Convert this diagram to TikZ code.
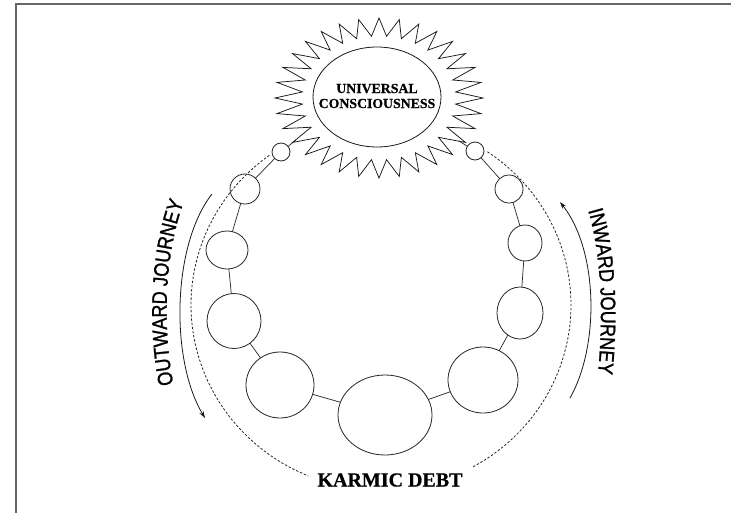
\documentclass[tikz,border=0pt]{standalone}
\usepackage{fontspec}
\setmainfont{Liberation Serif}
\newfontfamily\jfont[FakeStretch=0.86,FakeBold=1.2]{Liberation Sans}
\newfontfamily\hfont[FakeBold=0.6]{Liberation Serif Bold}
\usetikzlibrary{shapes.geometric,decorations.text,arrows.meta}
\begin{document}
\begin{tikzpicture}[x=1pt,y=-1pt,
  bead/.style 2 args={draw=black!85, line width=0.8pt, ellipse, inner sep=0pt, outer sep=0pt, minimum width=#1, minimum height=#2},
  link/.style={draw=black!85, line width=0.7pt},
  ray/.style={draw=black!90, line width=0.75pt, line join=miter},
  karma/.style={draw=black!85, line width=0.8pt, dash pattern=on 2.4pt off 1.8pt},
  journey/.style={draw=black!90, line width=0.8pt, -{Stealth[length=7pt,width=4.5pt]}},
  frame/.style={draw=black!60, line width=2pt}]
\useasboundingbox (0,0) rectangle (731,512);
\fill[white] (0,0) rectangle (731,512);
% frame (only left and top edges visible)
\draw[frame] (16,513) -- (16,4) -- (732,4);

% sun
\draw[ray] ({379+104},98)
  \foreach \i [evaluate=\i as \ang using \i*5.625,
               evaluate=\i as \rx using {ifthenelse(mod(\i,2)==0,104,77)},
               evaluate=\i as \ry using {ifthenelse(mod(\i,2)==0,80,62)}] in {1,...,63}
  { -- ({379+\rx*cos(\ang)},{98+\ry*sin(\ang)}) } -- cycle;
\node[draw=black!90, line width=0.8pt, ellipse, inner sep=0pt, outer sep=0pt,
      minimum width=128, minimum height=100] (uc) at (377,97) {};
\node[font=\hfont\fontsize{13.8}{15}\selectfont, align=center, inner sep=0pt] (uctext) at (377,96) {UNIVERSAL\\CONSCIOUSNESS};
\coordinate (sunL) at (296,140);
\coordinate (sunR) at (459,141);

% beads
\node[bead={18}{18}] (b1) at (281,152) {};
\node[bead={30}{30}] (b2) at (245,189) {};
\node[bead={42}{38}] (b3) at (227,250) {};
\node[bead={54}{55}] (b4) at (234,321) {};
\node[bead={68}{66}] (b5) at (280,385) {};
\node[bead={94}{80}] (b6) at (385,415) {};
\node[bead={70}{66}] (b7) at (483,380) {};
\node[bead={46}{52}] (b8) at (520,313) {};
\node[bead={34}{36}] (b9) at (525,243) {};
\node[bead={28}{28}] (b10) at (509,189) {};
\node[bead={18}{18}] (b11) at (475,151) {};

\draw[link] (sunL) -- (b1);
\draw[link] (b1) -- (b2);
\draw[link] (b2) -- (b3);
\draw[link] (b3) -- (b4);
\draw[link] (b4) -- (b5);
\draw[link] (b5) -- (b6);
\draw[link] (b6) -- (b7);
\draw[link] (b7) -- (b8);
\draw[link] (b8) -- (b9);
\draw[link] (b9) -- (b10);
\draw[link] (b10) -- (b11);
\draw[link] (b11) -- (sunR);

% karmic debt
\node[font=\hfont\fontsize{20}{20}\selectfont, inner sep=0pt] (kd) at (390,480) {KARMIC DEBT};
\draw[karma] plot[domain=126:247.5, samples=80] ({381+190*cos(\x)},{305-185*sin(\x)});
\draw[karma] plot[domain=-61:56, samples=80] ({381+190*cos(\x)},{305-185*sin(\x)});

% journeys
\coordinate (oS) at (212,194);
\coordinate (oE) at (205,418);
\draw[journey] (oS) .. controls (172,245) and (170,360) .. (oE);
\coordinate (iS) at (570,398);
\coordinate (iE) at (560,202);
\draw[journey] (iS) .. controls (600,345) and (598,250) .. (iE);

\path[decorate, decoration={text along path, text align=center,
   text={|\jfont\fontsize{21}{21}\selectfont|OUTWARD JOURNEY}}]
   (176,395) .. controls (162,340) and (162,250) .. (188,192);
\path[decorate, decoration={text along path, text align=center,
   text={|\jfont\fontsize{21}{21}\selectfont|INWARD JOURNEY}}]
   (583,195) .. controls (604,250) and (604,330) .. (596,390);
\end{tikzpicture}
\end{document}
